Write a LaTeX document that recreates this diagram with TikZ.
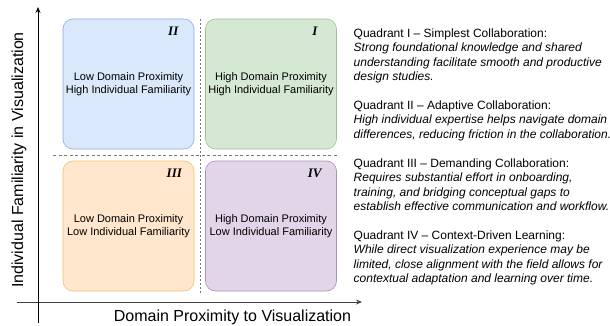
\documentclass[tikz,border=0pt]{standalone}
\usepackage{fontspec}
\setmainfont{Liberation Sans}
\newfontfamily\numfont{Liberation Serif}
\usetikzlibrary{arrows.meta}
\usepackage{xcolor}

\definecolor{blueFill}{HTML}{DAE8FC}
\definecolor{blueLine}{HTML}{8EAADB}
\definecolor{greenFill}{HTML}{D5E8D4}
\definecolor{greenLine}{HTML}{9CC58C}
\definecolor{orangeFill}{HTML}{FFE6CC}
\definecolor{orangeLine}{HTML}{ECC46A}
\definecolor{purpleFill}{HTML}{E1D5E7}
\definecolor{purpleLine}{HTML}{AB8FBB}
\definecolor{dashGray}{HTML}{7A7A7A}

\tikzset{
	quadbox/.style={rounded corners=10pt,line width=0.6pt,minimum width=131pt,minimum height=130pt,inner sep=0pt,align=center,font=\fontsize{11}{13}\selectfont},
	romannum/.style={font=\numfont\bfseries\itshape\fontsize{13}{13}\selectfont},
	desc/.style={anchor=north west,inner sep=0pt,align=left,font=\fontsize{12}{14.5}\selectfont},
	axislabel/.style={font=\fontsize{16}{16}\selectfont}
}

\begin{document}
\begin{tikzpicture}[x=1pt,y=-1pt]
				\useasboundingbox (0,0) rectangle (610,326);
				% quadrant boxes
				\node(II) at (128.5,84)[quadbox,fill=blueFill,draw=blueLine]{Low Domain Proximity\\High Individual Familiarity};
				\node(I) at (271,84)[quadbox,fill=greenFill,draw=greenLine]{High Domain Proximity\\High Individual Familiarity};
				\node(III) at (128.5,226)[quadbox,fill=orangeFill,draw=orangeLine]{Low Domain Proximity\\Low Individual Familiarity};
				\node(IV) at (271,226)[quadbox,fill=purpleFill,draw=purpleLine]{High Domain Proximity\\Low Individual Familiarity};
				\node(numII) at ([xshift=-21pt,yshift=-13pt]II.north east)[romannum]{II};
				\node(numI) at ([xshift=-22pt,yshift=-13pt]I.north east)[romannum]{I};
				\node(numIII) at ([xshift=-20pt,yshift=-13pt]III.north east)[romannum]{III};
				\node(numIV) at ([xshift=-22pt,yshift=-13pt]IV.north east)[romannum]{IV};
				% dividers
				\coordinate(hdivL) at (53,155);
				\coordinate(hdivR) at (339,155);
				\coordinate(vdivT) at (200,19);
				\coordinate(vdivB) at (200,294);
				\draw[dashGray, line width=0.8pt, dash pattern=on 3pt off 2.5pt] (hdivL) -- (hdivR);
				\draw[dashGray, line width=0.8pt, dash pattern=on 2pt off 2pt] (vdivT) -- (vdivB);
				% axes
				\coordinate(yStart) at (38,323);
				\coordinate(yEnd) at (38,7);
				\coordinate(xStart) at (17,302);
				\coordinate(xEnd) at (362,302);
				\draw[-{Stealth[length=6pt,width=5pt]}, line width=0.8pt, black!75] (xStart) -- (xEnd);
				\draw[-{Stealth[length=6pt,width=5pt]}, line width=0.8pt] (yStart) -- (yEnd);
				\node(xlabel) at (232.5,321)[axislabel,anchor=base]{Domain Proximity to Visualization};
				\node(ylabel) at (19,160)[axislabel,rotate=90]{Individual Familiarity in Visualization};
				% descriptions
				\node(descI) at (353.5,28.5)[desc]{Quadrant I -- Simplest Collaboration:\\\textit{Strong foundational knowledge and shared}\\\textit{understanding facilitate smooth and productive}\\\textit{design studies.}};
				\node(descII) at (353.5,100.5)[desc]{Quadrant II -- Adaptive Collaboration:\\\textit{High individual expertise helps navigate domain}\\\textit{differences, reducing friction in the collaboration.}};
				\node(descIII) at (353.5,158.5)[desc]{Quadrant III -- Demanding Collaboration:\\\textit{Requires substantial effort in onboarding,}\\\textit{training, and bridging conceptual gaps to}\\\textit{establish effective communication and workflow.}};
				\node(descIV) at (353.5,230.5)[desc]{Quadrant IV -- Context-Driven Learning:\\\textit{While direct visualization experience may be}\\\textit{limited, close alignment with the field allows for}\\\textit{contextual adaptation and learning over time.}};
\end{tikzpicture}
\end{document}
